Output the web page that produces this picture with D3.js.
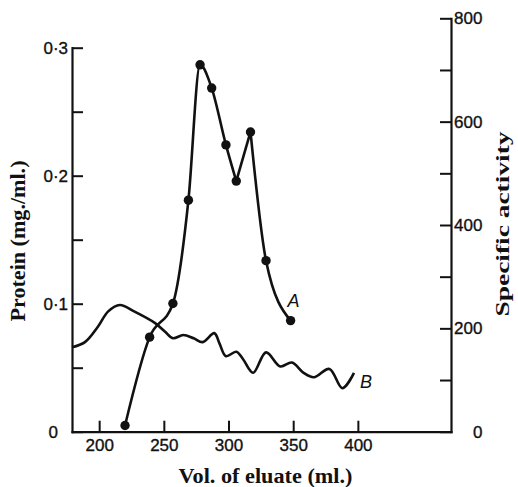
<!DOCTYPE html>
<html>
<head>
<meta charset="utf-8">
<script src="https://cdn.jsdelivr.net/npm/d3@7"></script>
<style>
  body { margin: 0; background: #fff; }
  .tick text { font-family: "Liberation Sans", Arial, sans-serif; font-size: 17px; fill: #111; stroke: #111; stroke-width: 0.35px; }
  .title { font-family: "Liberation Serif", "Times New Roman", serif; font-weight: bold; fill: #111; }
  .curve-label { font-family: "Liberation Sans", Arial, sans-serif; font-style: italic; font-size: 18px; fill: #111; }
</style>
</head>
<body>
<svg id="chart" width="518" height="487"></svg>
<script>
// curve A: assayed fractions, specific activity (right axis)
const aVol = [220, 239, 257, 269, 278, 287, 298, 306, 317, 329, 348];
const aActivity = [12, 183, 248, 448, 710, 665, 555, 485, 580, 331, 215];
// points where curve A turns sharply
const aCorners = [306, 317];

// curve B: continuous protein trace (left axis)
const bVol = [179, 189, 199, 207, 216, 227, 243, 251, 257, 265, 273, 280, 289, 293, 298, 306, 311, 319, 329, 340, 349, 358, 366, 378, 388, 397];
const bProtein = [0.066, 0.070, 0.082, 0.094, 0.099, 0.094, 0.085, 0.078, 0.073, 0.0755, 0.073, 0.070, 0.077, 0.069, 0.059, 0.0625, 0.057, 0.046, 0.062, 0.051, 0.054, 0.046, 0.0425, 0.049, 0.034, 0.046];

const xTicks = [200, 250, 300, 350, 400];
const proteinTicks = [0, 0.05, 0.1, 0.15, 0.2, 0.25, 0.3];
const proteinLabels = [0, 0.1, 0.2, 0.3];
const activityTicks = [0, 100, 200, 300, 400, 500, 600, 700, 800];
const activityLabels = [0, 200, 400, 600, 800];

const svg = d3.select('#chart');
svg.append('rect').attr('width', 518).attr('height', 487).attr('fill', '#fff');

const x = d3.scaleLinear().domain([179, 472]).range([72, 451]);
const yL = d3.scaleLinear().domain([0, 0.3]).range([431.7, 47.7]);
const yR = d3.scaleLinear().domain([0, 800]).range([431.7, 18.3]);

const fmtProtein = d => {
  if (!proteinLabels.some(v => Math.abs(v - d) < 1e-9)) return '';
  return d === 0 ? '0' : d3.format('.1f')(d).replace('.', '\u00b7');
};
const fmtActivity = d => activityLabels.includes(d) ? String(d) : '';

const styleAxis = g => {
  g.select('.domain').attr('stroke', '#111').attr('stroke-width', 2.2);
  g.selectAll('.tick line').attr('stroke', '#111').attr('stroke-width', 2);
};

svg.append('g')
  .attr('transform', 'translate(72,0)')
  .call(d3.axisLeft(yL).tickValues(proteinTicks).tickFormat(fmtProtein)
    .tickSize(-11).tickSizeOuter(0).tickPadding(4))
  .call(styleAxis)
  .call(g => g.selectAll('.tick text').filter(d => d === 0).attr('dx', -10));

svg.append('g')
  .attr('transform', 'translate(451,0)')
  .call(d3.axisRight(yR).tickValues(activityTicks).tickFormat(fmtActivity)
    .tickSize(-11).tickSizeOuter(0).tickPadding(3))
  .call(styleAxis)
  .call(g => g.selectAll('.tick text').filter(d => d === 0).attr('dx', 19));

svg.append('g')
  .attr('transform', 'translate(0,431.7)')
  .call(d3.axisBottom(x).tickValues(xTicks).tickFormat(d3.format('d'))
    .tickSize(-11).tickSizeOuter(0).tickPadding(7))
  .call(styleAxis);

svg.selectAll('.domain').attr('stroke-linecap', 'square');

// curve B
const bData = bVol.map((v, i) => ({ v, p: bProtein[i] }));
svg.append('path')
  .datum(bData)
  .attr('fill', 'none')
  .attr('stroke', '#111')
  .attr('stroke-width', 2.6)
  .attr('d', d3.line().x(d => x(d.v)).y(d => yL(d.p)).curve(d3.curveCatmullRom.alpha(0.5)));

// curve A, split at its sharp turns
const aData = aVol.map((v, i) => ({ v, a: aActivity[i] }));
const aPieces = [[]];
aData.forEach(d => {
  aPieces[aPieces.length - 1].push(d);
  if (aCorners.includes(d.v)) aPieces.push([d]);
});
const lineA = d3.line().x(d => x(d.v)).y(d => yR(d.a)).curve(d3.curveMonotoneX);
svg.append('g').selectAll('path')
  .data(aPieces)
  .join('path')
    .attr('fill', 'none')
    .attr('stroke', '#111')
    .attr('stroke-width', 2.6)
    .attr('d', lineA);

svg.append('g').selectAll('circle')
  .data(aData)
  .join('circle')
    .attr('cx', d => x(d.v))
    .attr('cy', d => yR(d.a))
    .attr('r', 4.7)
    .attr('fill', '#111');

// curve labels
const aLast = aData[aData.length - 1];
svg.append('text').attr('class', 'curve-label')
  .attr('x', x(aLast.v) + 3).attr('y', yR(aLast.a) - 14)
  .attr('text-anchor', 'middle').text('A');
const bLast = bData[bData.length - 1];
svg.append('text').attr('class', 'curve-label')
  .attr('x', x(bLast.v) + 12).attr('y', yL(bLast.p) + 15)
  .attr('text-anchor', 'middle').text('B');

// axis titles
svg.append('text').attr('class', 'title')
  .attr('x', 265.5).attr('y', 483.3)
  .attr('text-anchor', 'middle').attr('font-size', 20)
  .attr('textLength', 174).attr('lengthAdjust', 'spacingAndGlyphs')
  .text('Vol. of eluate (ml.)');

svg.append('text').attr('class', 'title')
  .attr('transform', 'translate(25,241) rotate(-90)')
  .attr('text-anchor', 'middle').attr('font-size', 20)
  .attr('textLength', 161).attr('lengthAdjust', 'spacingAndGlyphs')
  .text('Protein (mg./ml.)');

svg.append('text').attr('class', 'title')
  .attr('transform', 'translate(509,224) rotate(-90)')
  .attr('text-anchor', 'middle').attr('font-size', 19)
  .attr('textLength', 185).attr('lengthAdjust', 'spacingAndGlyphs')
  .text('Specific activity');
</script>
</body>
</html>
